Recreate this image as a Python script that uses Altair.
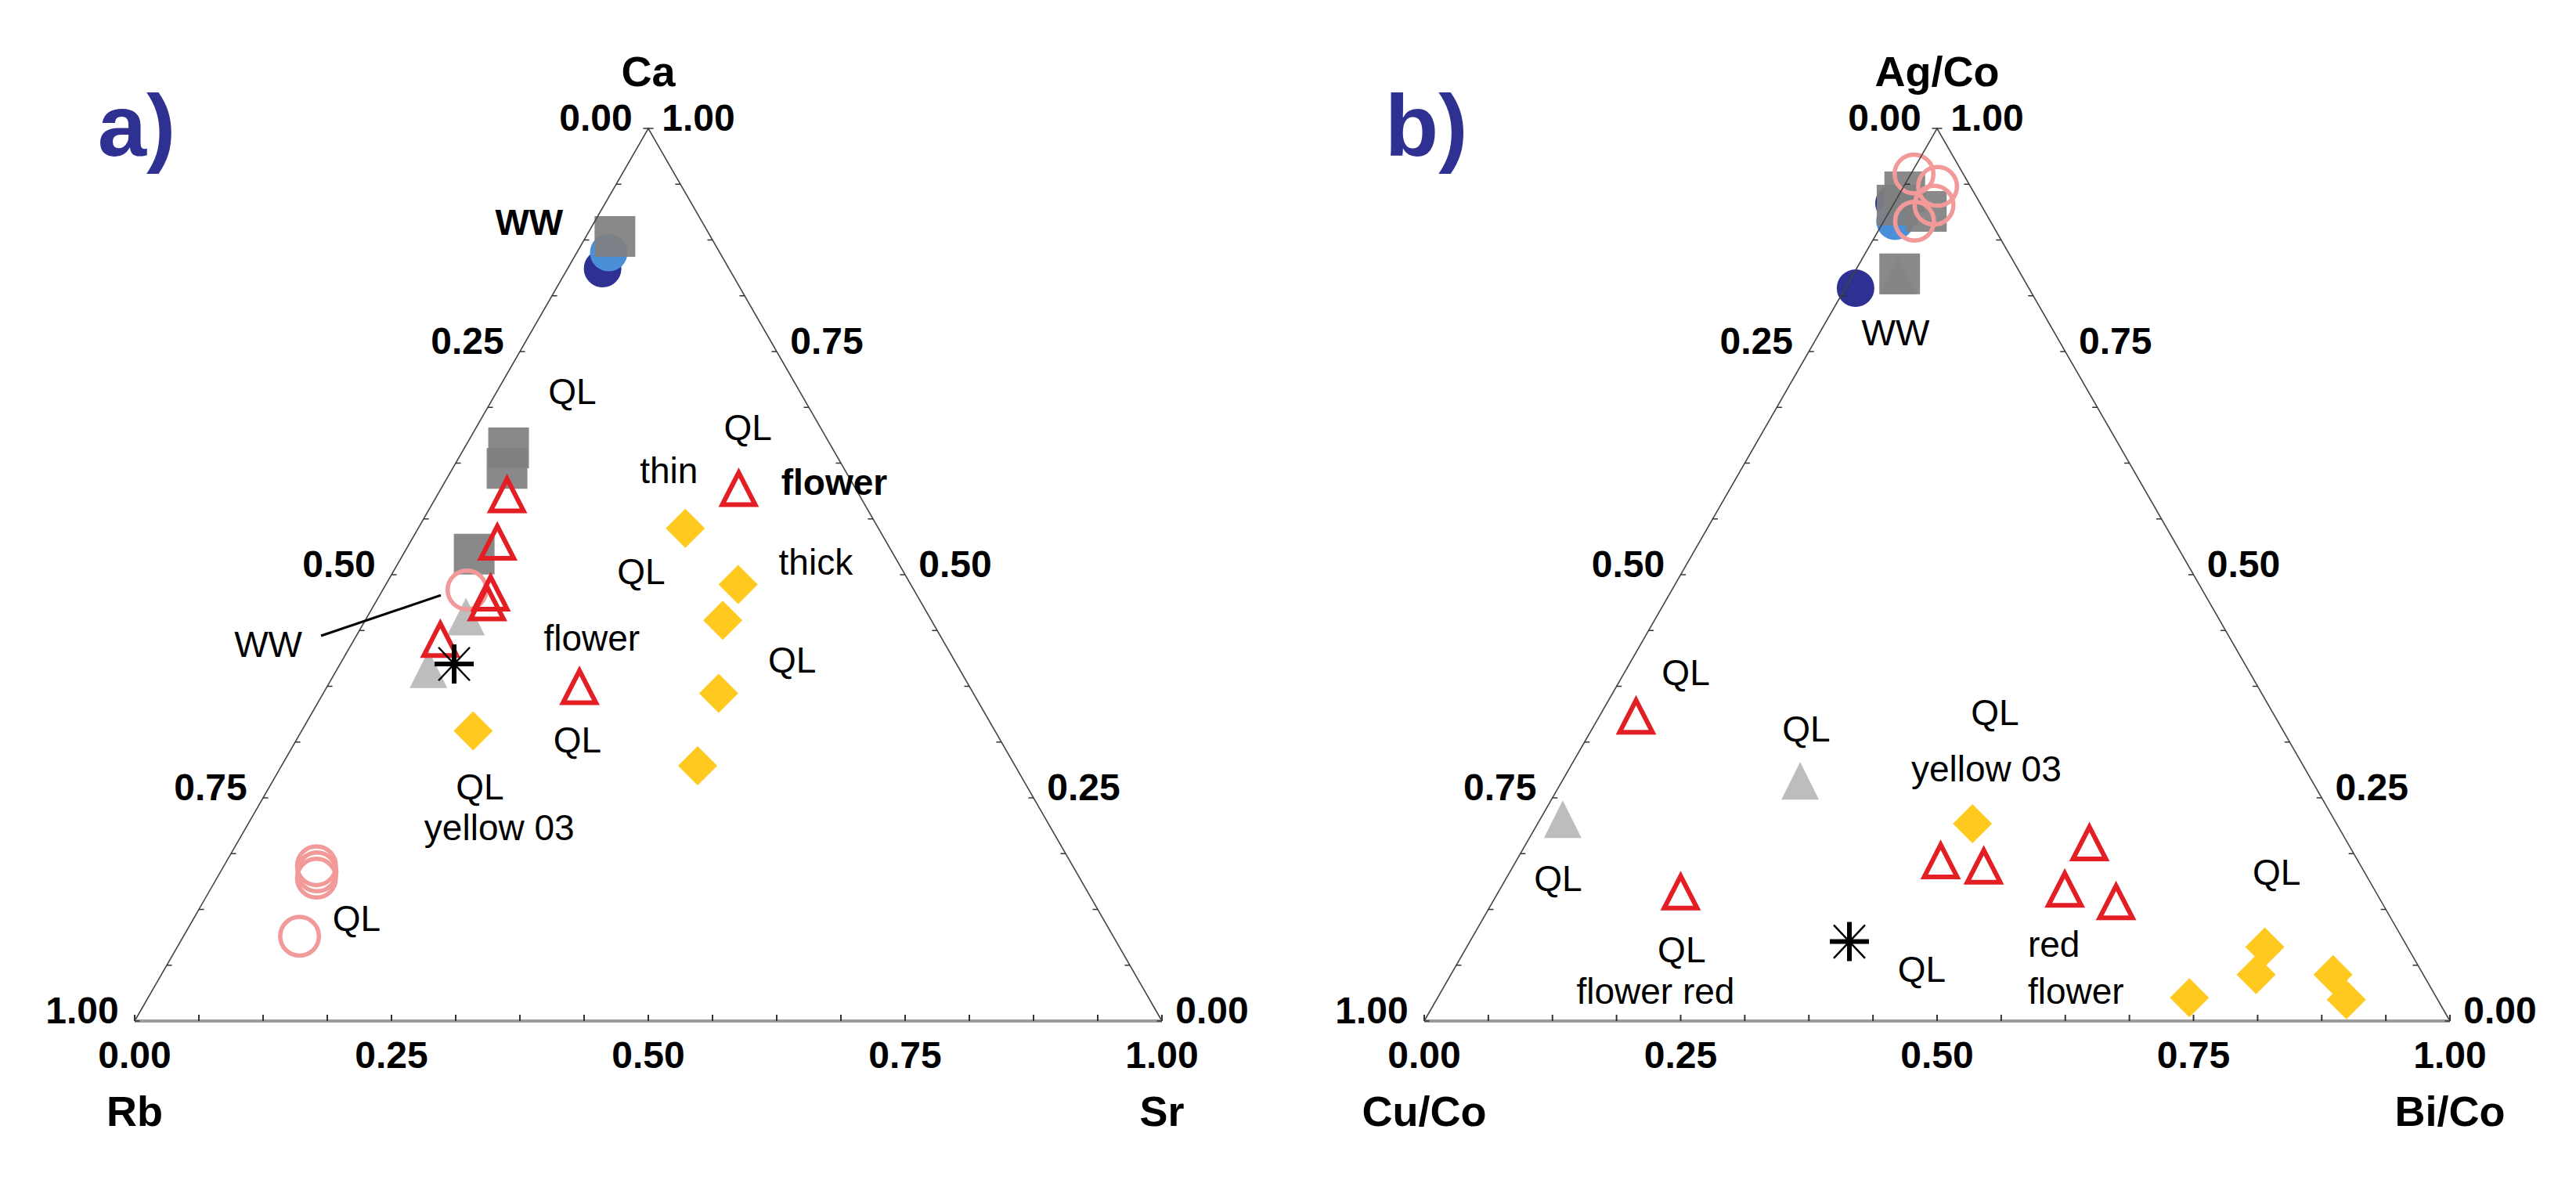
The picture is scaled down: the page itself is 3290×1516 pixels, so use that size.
import altair as alt
import pandas as pd

# ---------------- Panel a): compositions (Ca, Sr, Rb) ----------------
A_GRAY_SQUARES = [(0.879, 0.028, 0.093), (0.642, 0.043, 0.315), (0.619, 0.053, 0.328), (0.523, 0.069, 0.408)]
A_DARK_BLUE = [(0.843, 0.034, 0.123)]
A_LIGHT_BLUE = [(0.861, 0.031, 0.108)]
A_LGRAY_TRI = [(0.453, 0.096, 0.451), (0.394, 0.089, 0.517)]
A_PINK = [(0.483, 0.082, 0.435), (0.174, 0.090, 0.736), (0.167, 0.094, 0.739),
          (0.160, 0.097, 0.743), (0.095, 0.113, 0.792)]
A_RED_TRI = [(0.596, 0.290, 0.114), (0.589, 0.068, 0.343), (0.536, 0.085, 0.379),
             (0.479, 0.107, 0.414), (0.468, 0.109, 0.423), (0.427, 0.084, 0.489),
             (0.374, 0.246, 0.380)]
A_YELLOW = [(0.552, 0.260, 0.188), (0.489, 0.343, 0.168), (0.449, 0.348, 0.203),
            (0.367, 0.385, 0.248), (0.286, 0.405, 0.309), (0.325, 0.167, 0.508)]
A_ASTERISK = [(0.400, 0.111, 0.489)]

# ---------------- Panel b): compositions (Ag/Co, Bi/Co, Cu/Co) ----------------
B_GRAY_SQUARES = [(0.929, 0.004, 0.067), (0.914, 0.004, 0.082), (0.907, 0.036, 0.057), (0.837, 0.045, 0.118)]
B_DARK_BLUE = [(0.916, 0.000, 0.084), (0.821, 0.010, 0.169)]
B_LIGHT_BLUE = [(0.896, 0.011, 0.093)]
B_LGRAY_TRI = [(0.835, 0.045, 0.120), (0.269, 0.232, 0.499), (0.226, 0.022, 0.752)]
B_PINK = [(0.949, 0.003, 0.048), (0.935, 0.033, 0.032), (0.914, 0.040, 0.046), (0.896, 0.030, 0.074)]
B_RED_TRI = [(0.341, 0.036, 0.623), (0.144, 0.178, 0.678), (0.179, 0.414, 0.407),
             (0.173, 0.459, 0.368), (0.199, 0.549, 0.252), (0.147, 0.551, 0.302),
             (0.133, 0.608, 0.259)]
B_YELLOW = [(0.221, 0.424, 0.355), (0.026, 0.733, 0.241), (0.083, 0.778, 0.139),
            (0.052, 0.785, 0.163), (0.052, 0.860, 0.088), (0.024, 0.887, 0.089)]
B_ASTERISK = [(0.089, 0.370, 0.541)]

# ---------------- annotations (text, x, y in triangle units) ----------------
A_LABELS = [("QL", 0.426, 0.7035), ("QL", 0.597, 0.663), ("thin", 0.520, 0.615),
            ("QL", 0.493, 0.502), ("thick", 0.663, 0.512), ("WW", 0.130, 0.420),
            ("flower", 0.445, 0.427), ("QL", 0.640, 0.403), ("QL", 0.431, 0.313),
            ("QL", 0.336, 0.2605), ("yellow 03", 0.355, 0.215), ("QL", 0.216, 0.113)]
A_BOLD_LABELS = [("WW", 0.384, 0.893), ("flower", 0.681, 0.602)]
A_LEFT_LABELS = []
A_LEADER = [(0.1814, 0.4316), (0.298, 0.477)]

B_LABELS = [("WW", 0.4595, 0.769), ("QL", 0.255, 0.389), ("QL", 0.3725, 0.325),
            ("QL", 0.5565, 0.344), ("yellow 03", 0.548, 0.281), ("QL", 0.1305, 0.158),
            ("QL", 0.831, 0.165), ("QL", 0.251, 0.078), ("flower red", 0.2255, 0.032),
            ("QL", 0.485, 0.056)]
B_BOLD_LABELS = []
B_LEFT_LABELS = [("red", 0.5885, 0.084), ("flower", 0.5885, 0.032)]

TICKS = [k / 16 for k in range(17)]
TICK_VALUES = [0.0, 0.25, 0.5, 0.75, 1.0]
TICK_TEXT = ["0.00", "0.25", "0.50", "0.75", "1.00"]

FONT = "Liberation Sans"
W, H = 1637, 1500
YDOM = [-0.17895, 1.13684]

TRI_OPEN = "M0,-1L1,0.95L-1,0.95Z"
TRI_FILL = "M0,-1L1,1L-1,1Z"
AST_MAIN = "M0,-1L0,1M-1,0L1,0"
AST_DIAG = "M-0.8,-0.85L0.8,0.85M-0.8,0.85L0.8,-0.85"


def panel(d, names, letter, xdom):
    xs = alt.Scale(domain=xdom, nice=False, zero=False)
    ys = alt.Scale(domain=YDOM, nice=False, zero=False)

    def X(f):
        return alt.X(f, type="quantitative", scale=xs, axis=None)

    def Y(f):
        return alt.Y(f, type="quantitative", scale=ys, axis=None)

    def tern(rows, opacity=1, **mark):
        df = pd.DataFrame(rows, columns=["t", "r", "l"])
        return (alt.Chart(df)
                .transform_calculate(px="datum.r + datum.t / 2", py="datum.t")
                .mark_point(opacity=opacity, **mark)
                .encode(x=X("px"), y=Y("py")))

    layers = []
    # markers (drawing order)
    layers.append(tern(d["dark"], shape="circle", filled=True, color="#2e3192", size=2304))
    layers.append(tern(d["light"], shape="circle", filled=True, color="#4a90d9", size=2304))
    layers.append(tern(d["gtri"], shape=TRI_FILL, filled=True, color="#bdbdbd", size=2304))
    layers.append(tern(d["sq"], shape="square", filled=True, color="#808080", size=2704, opacity=0.93))
    layers.append(tern(d["pink"], shape="circle", filled=False, color="#f29a9a", strokeWidth=5.5, size=2450))
    layers.append(tern(d["red"], shape=TRI_OPEN, filled=False, color="#e31e24", strokeWidth=6, size=1764))
    layers.append(tern(d["yellow"], shape="diamond", filled=True, color="#ffc91f", size=2500))
    layers.append(tern(d["ast"], shape=AST_MAIN, filled=False, color="black", strokeWidth=6, size=2500))
    layers.append(tern(d["ast"], shape=AST_DIAG, filled=False, color="black", strokeWidth=2.5, size=2500))

    # triangle frame
    corners = pd.DataFrame({"x": [0.0, 0.5, 1.0], "y": [0.0, 1.0, 0.0], "o": [0, 1, 2]})
    layers.append(alt.Chart(corners).mark_line(color="#444444", strokeWidth=1.6)
                  .encode(x=X("x"), y=Y("y"), order="o:Q"))
    base = pd.DataFrame({"x": [0.0], "x2": [1.0], "y": [0.0]})
    layers.append(alt.Chart(base).mark_rule(color="#9c9c9c", strokeWidth=4)
                  .encode(x=X("x"), x2="x2", y=Y("y")))

    tk = pd.DataFrame({"v": TICKS})
    layers.append(alt.Chart(tk)
                  .transform_calculate(x="datum.v", y="0", y2="0.007")
                  .mark_rule(color="#333333", strokeWidth=2)
                  .encode(x=X("x"), y=Y("y"), y2="y2:Q"))
    layers.append(alt.Chart(tk)
                  .transform_calculate(x="datum.v / 2", x2="datum.v / 2 + 0.005", y="datum.v")
                  .mark_rule(color="#333333", strokeWidth=1.5)
                  .encode(x=X("x"), x2="x2:Q", y=Y("y")))
    layers.append(alt.Chart(tk)
                  .transform_calculate(x="1 - datum.v / 2", x2="1 - datum.v / 2 - 0.005", y="datum.v")
                  .mark_rule(color="#333333", strokeWidth=1.5)
                  .encode(x=X("x"), x2="x2:Q", y=Y("y")))

    # tick labels
    tl = pd.DataFrame({"v": TICK_VALUES, "lab": TICK_TEXT})
    tstyle = dict(font=FONT, fontSize=48, fontWeight="bold", color="black",
                  align="center", baseline="middle")
    layers.append(alt.Chart(tl).transform_calculate(x="datum.v", y="0")
                  .mark_text(dy=46, **tstyle)
                  .encode(x=X("x"), y=Y("y"), text="lab:N"))
    layers.append(alt.Chart(tl).transform_calculate(x="(1 - datum.v) / 2", y="1 - datum.v")
                  .mark_text(dx=-67, dy=-11, **tstyle)
                  .encode(x=X("x"), y=Y("y"), text="lab:N"))
    layers.append(alt.Chart(tl).transform_calculate(x="1 - datum.v / 2", y="datum.v")
                  .mark_text(dx=64, dy=-11, **tstyle)
                  .encode(x=X("x"), y=Y("y"), text="lab:N"))

    # axis titles
    top = pd.DataFrame({"x": [0.5], "y": [1.0], "name": [names[0]]})
    bottom = pd.DataFrame({"x": [0.0, 1.0], "y": [0.0, 0.0], "name": [names[2], names[1]]})
    titlestyle = dict(font=FONT, fontSize=54, fontWeight="bold", color="black",
                      align="center", baseline="middle")
    layers.append(alt.Chart(top).mark_text(dy=-70, **titlestyle)
                  .encode(x=X("x"), y=Y("y"), text="name:N"))
    layers.append(alt.Chart(bottom).mark_text(dy=118, **titlestyle)
                  .encode(x=X("x"), y=Y("y"), text="name:N"))

    # panel letter
    let = pd.DataFrame({"x": [0.002], "y": [0.969], "s": [letter]})
    layers.append(alt.Chart(let).mark_text(font=FONT, fontSize=112, fontWeight="bold",
                                           color="#2e3192", align="center", baseline="alphabetic")
                  .encode(x=X("x"), y=Y("y"), text="s:N"))

    # annotations
    lstyle = dict(font=FONT, fontSize=46, color="black", baseline="middle")
    if d["labels"]:
        df = pd.DataFrame(d["labels"], columns=["s", "x", "y"])
        layers.append(alt.Chart(df).mark_text(align="center", **lstyle)
                      .encode(x=X("x"), y=Y("y"), text="s:N"))
    if d["bold"]:
        df = pd.DataFrame(d["bold"], columns=["s", "x", "y"])
        layers.append(alt.Chart(df).mark_text(align="center", fontWeight="bold", **lstyle)
                      .encode(x=X("x"), y=Y("y"), text="s:N"))
    if d["left"]:
        df = pd.DataFrame(d["left"], columns=["s", "x", "y"])
        layers.append(alt.Chart(df).mark_text(align="left", **lstyle)
                      .encode(x=X("x"), y=Y("y"), text="s:N"))
    if d.get("leader"):
        df = pd.DataFrame(d["leader"], columns=["x", "y"])
        df["o"] = range(len(df))
        layers.append(alt.Chart(df).mark_line(color="black", strokeWidth=3)
                      .encode(x=X("x"), y=Y("y"), order="o:Q"))

    return alt.layer(*layers).properties(width=W, height=H)


pa = panel(dict(dark=A_DARK_BLUE, light=A_LIGHT_BLUE, sq=A_GRAY_SQUARES, gtri=A_LGRAY_TRI,
                pink=A_PINK, red=A_RED_TRI, yellow=A_YELLOW, ast=A_ASTERISK,
                labels=A_LABELS, bold=A_BOLD_LABELS, left=A_LEFT_LABELS, leader=A_LEADER),
           ("Ca", "Sr", "Rb"), "a)", [-0.125, 1.12271])
pb = panel(dict(dark=B_DARK_BLUE, light=B_LIGHT_BLUE, sq=B_GRAY_SQUARES, gtri=B_LGRAY_TRI,
                pink=B_PINK, red=B_RED_TRI, yellow=B_YELLOW, ast=B_ASTERISK,
                labels=B_LABELS, bold=B_BOLD_LABELS, left=B_LEFT_LABELS),
           ("Ag/Co", "Bi/Co", "Cu/Co"), "b)", [-0.13282, 1.11679])

chart = (alt.hconcat(pa, pb, spacing=0)
         .resolve_scale(x="independent", y="independent")
         .properties(padding=0, background="white")
         .configure_view(strokeWidth=0, stroke=None))

chart.save("out.html", embed_options={"renderer": "svg", "actions": False})
